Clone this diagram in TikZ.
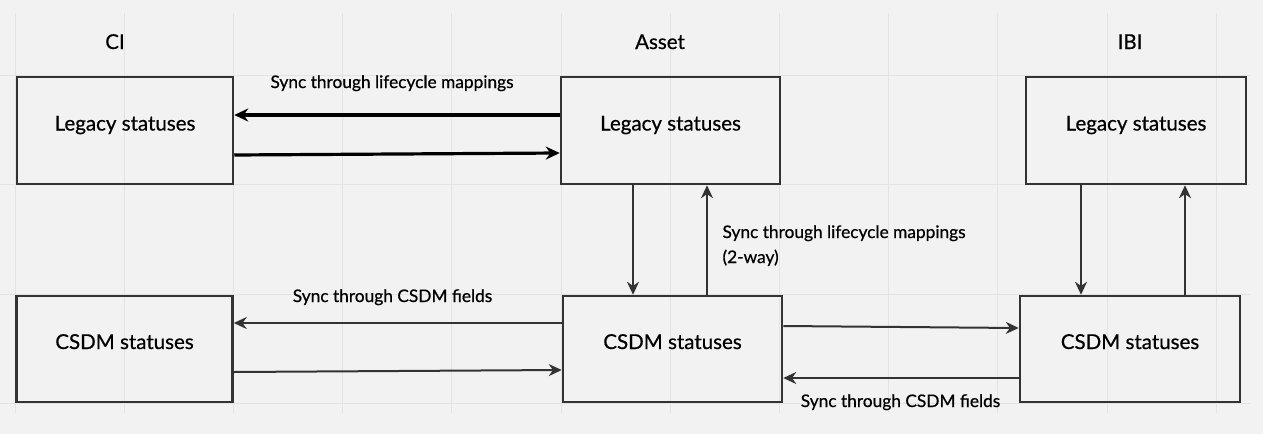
\documentclass[tikz,border=0pt]{standalone}
\usepackage{fontspec}
\setmainfont{Lato}[FakeBold=0.6,AutoFakeBold=0.6]
\usepackage{xcolor}
\usetikzlibrary{arrows.meta}
\definecolor{boardbg}{HTML}{F2F2F2}
\definecolor{gridline}{HTML}{E3E3E3}
\definecolor{darkline}{HTML}{333333}

\begin{document}
\begin{tikzpicture}[x=1pt, y=-1pt,
    statusbox/.style={draw=darkline, line width=2.5pt, minimum height=107pt, text height=8pt, text depth=8pt, font=\fontsize{20.5}{24}\selectfont\bfseries},
    coltitle/.style={anchor=base, font=\fontsize{20.5}{24}\selectfont\bfseries},
    synclabel/.style={font=\fontsize{17.3}{25}\selectfont\bfseries},
    boldarrow/.style={line width=3.2pt, -{Stealth[length=14pt, width=13pt]}},
    thinarrow/.style={draw=darkline, line width=2pt, -{Stealth[length=13pt, width=12pt]}}]
    \fill[boardbg] (0,0) rectangle (1263,434);
    \useasboundingbox (0,0) rectangle (1263,434);
    % background grid
    \foreach \gx in {15,124.2,233.4,342.6,451.8,561,670.2,779.4,888.6,997.8,1107,1216.2}
        \draw[gridline, line width=1pt] (\gx,13) -- (\gx,413);
    \foreach \gy in {75,184,294,403}
        \draw[gridline, line width=1pt] (0,\gy) -- (1250,\gy);

    % column titles
    \node[coltitle] (cititle) at (115,49) {CI};
    \node[coltitle] (assettitle) at (660,49) {Asset};
    \node[coltitle] (ibititle) at (1130,49) {IBI};

    % boxes
    \node[statusbox, minimum width=216pt] (cilegacy) at (125,130.5) {Legacy statuses};
    \node[statusbox, minimum width=219pt] (assetlegacy) at (670.5,130.5) {Legacy statuses};
    \node[statusbox, minimum width=220pt] (ibilegacy) at (1136,130.5) {Legacy statuses};
    \node[statusbox, minimum width=216pt, minimum height=106pt] (cicsdm) at (124.5,349) {CSDM statuses};
    \node[statusbox, minimum width=219pt, minimum height=106pt] (assetcsdm) at (672.5,349) {CSDM statuses};
    \node[statusbox, minimum width=220pt, minimum height=106pt] (ibicsdm) at (1130,349) {CSDM statuses};

    % legacy sync CI <-> Asset
    \draw[boldarrow] ([yshift=15.5pt]assetlegacy.west) -- ([yshift=15.5pt]cilegacy.east);
    \draw[boldarrow] ([yshift=-24.5pt]cilegacy.east) -- ([yshift=-22.5pt]assetlegacy.west);
    \node[synclabel, anchor=base] (legacysync) at (392,88) {Sync through lifecycle mappings};

    % Asset legacy <-> Asset CSDM
    \draw[thinarrow] ([xshift=-37.5pt]assetlegacy.south) -- ([xshift=-37.5pt]assetlegacy.south |- assetcsdm.north);
    \draw[thinarrow] ([xshift=34.5pt]assetcsdm.north) -- ([xshift=34.5pt]assetcsdm.north |- assetlegacy.south);
    \node[synclabel, anchor=base west, align=left] (twoway) at (719,263) {Sync through lifecycle mappings\\(2-way)};

    % CSDM sync CI <-> Asset
    \draw[thinarrow] ([yshift=26pt]assetcsdm.west) -- ([yshift=26pt]cicsdm.east);
    \draw[thinarrow] ([yshift=-23pt]cicsdm.east) -- ([yshift=-21pt]assetcsdm.west);
    \node[synclabel, anchor=base] (cicsdmsync) at (392.5,302) {Sync through CSDM fields};

    % CSDM sync Asset <-> IBI
    \draw[thinarrow] ([yshift=23pt]assetcsdm.east) -- ([yshift=21pt]ibicsdm.west);
    \draw[thinarrow] ([yshift=-29pt]ibicsdm.west) -- ([yshift=-29pt]assetcsdm.east);
    \node[synclabel, anchor=base] (ibicsdmsync) at (900.5,407) {Sync through CSDM fields};

    % IBI legacy <-> IBI CSDM
    \draw[thinarrow] ([xshift=-55pt]ibilegacy.south) -- ([xshift=-55pt]ibilegacy.south |- ibicsdm.north);
    \draw[thinarrow] ([xshift=55pt]ibicsdm.north) -- ([xshift=55pt]ibicsdm.north |- ibilegacy.south);
\end{tikzpicture}
\end{document}
